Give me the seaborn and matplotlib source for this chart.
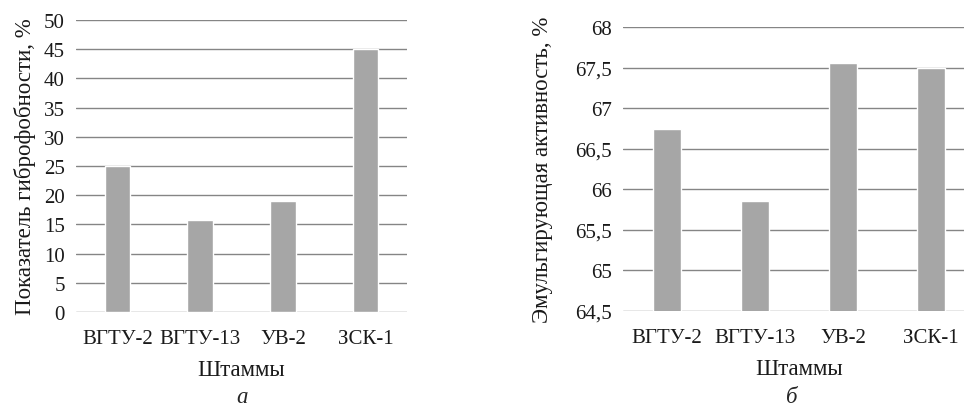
import matplotlib
matplotlib.use("Agg")
import matplotlib.pyplot as plt
import seaborn as sns
import pandas as pd

strains = ["ВГТУ-2", "ВГТУ-13", "УВ-2", "ЗСК-1"]
hydrophobicity = [25.0, 15.8, 19.0, 45.0]
emulsifying = [66.74, 65.85, 67.56, 67.5]
left_yticks = [0, 5, 10, 15, 20, 25, 30, 35, 40, 45, 50]
right_yticks = [64.5, 65, 65.5, 66, 66.5, 67, 67.5, 68]
right_yticklabels = ["64,5", "65", "65,5", "66", "66,5", "67", "67,5", "68"]

sns.set_theme(style="white")
plt.rcParams["font.family"] = ["Liberation Serif", "DejaVu Serif"]

fig = plt.figure(figsize=(9.64, 4.10), dpi=100)
ax1 = fig.add_axes([76/964, 1-313/410, 331/964, 292/410])
ax2 = fig.add_axes([623/964, 1-312/410, 352/964, 284/410])

bar_color = "#a6a6a6"
grid_color = "#858585"
text_color = "#1a1a1a"
fs = 15
lfs = 16.5

df1 = pd.DataFrame({"strain": strains, "value": hydrophobicity})
df2 = pd.DataFrame({"strain": strains, "value": emulsifying})

def style(ax, ylim, ticks, ticklabels=None):
    ax.set_ylim(*ylim)
    ax.set_xlim(-0.5, 3.5)
    ax.set_yticks(ticks)
    if ticklabels is not None:
        ax.set_yticklabels(ticklabels)
    for s in ax.spines.values():
        s.set_visible(False)
    ax.yaxis.grid(True, color=grid_color, linewidth=1.0)
    ax.set_axisbelow(True)
    ax.tick_params(axis="both", length=0, labelsize=fs, colors=text_color)
    ax.tick_params(axis="y", pad=8)
    ax.tick_params(axis="x", pad=12)

sns.barplot(data=df1, x="strain", y="value", color=bar_color, width=0.31,
            saturation=1, ax=ax1, zorder=3)
style(ax1, (0, 50), left_yticks)
ax1.set_xlabel("Штаммы", fontsize=lfs, labelpad=8, color=text_color)
ax1.set_ylabel("Показатель гиброфобности, %", fontsize=lfs, labelpad=6, color=text_color)

sns.barplot(data=df2, x="strain", y="value", color=bar_color, width=0.31,
            saturation=1, ax=ax2, zorder=3)
style(ax2, (64.5, 68), right_yticks, right_yticklabels)
ax2.set_xlabel("Штаммы", fontsize=lfs, labelpad=8, color=text_color)
ax2.set_ylabel("Эмульгирующая активность, %", fontsize=lfs, labelpad=16, color=text_color)

fig.text(242/964, 1-398/410, "а", fontsize=lfs, style="italic", ha="center", va="center")
fig.text(792/964, 1-398/410, "б", fontsize=lfs, style="italic", ha="center", va="center")

fig.savefig("out.png", dpi=100)
